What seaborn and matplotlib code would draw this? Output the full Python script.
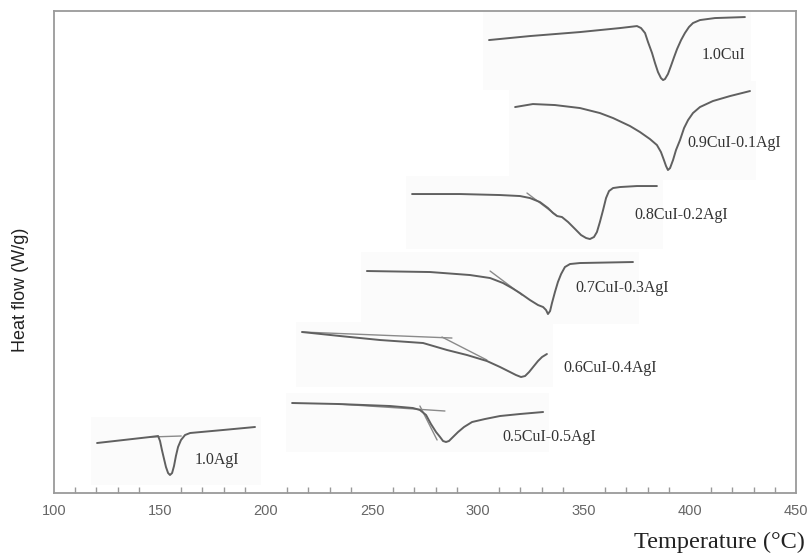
import numpy as np
import pandas as pd
import matplotlib.pyplot as plt
import seaborn as sns
from matplotlib.ticker import MultipleLocator
from matplotlib.patches import Rectangle

# DSC heating curves, heat flow in arbitrary (stacked/offset) units

t_10cui = [305.2, 324.5, 348.1, 367.0, 375.0, 376.9, 378.8, 380.2, 382.1, 383.5, 384.9, 386.3,
           387.3, 388.2, 389.6, 391.0, 392.5, 393.9, 395.8, 397.6, 399.5, 401.4, 404.7, 411.8, 425.9]
hf_10cui = [453, 457, 461, 465, 467, 465, 460, 451, 440, 430, 421, 415,
            413, 414, 419, 427, 436, 444, 453, 460, 466, 470, 473, 475, 476]

t_09cui = [317.5, 325.9, 336.3, 348.1, 357.5, 363.7, 371.7, 376.4, 381.1, 384.4, 386.3, 387.7,
           388.7, 389.6, 390.6, 392.0, 393.4, 395.3, 397.2, 399.1, 401.4, 404.7, 410.8, 418.9, 428.3]
hf_09cui = [386, 389, 388, 385, 380, 375, 367, 361, 354, 348, 341, 333,
            327, 323, 325, 333, 343, 353, 365, 373, 380, 386, 392, 397, 402]

t_08cui = [268.9, 291.5, 310.4, 319.8, 324.5, 329.2, 333.0, 335.4, 337.3, 339.6, 342.5, 345.8,
           348.6, 351.0, 352.8, 354.7, 356.1, 357.5, 359.0, 360.4, 361.8, 363.7, 367.0, 375.0, 384.4]
hf_08cui = [299, 299, 298, 297, 295, 291, 285, 280, 277, 276, 271, 264,
            258, 255, 254, 256, 261, 271, 283, 295, 302, 305, 306, 307, 307]

t_07cui = [247.6, 277.4, 296.2, 305.7, 311.8, 316.0, 319.8, 324.5, 328.3, 330.7, 332.1, 333.0,
           334.0, 334.9, 336.3, 337.7, 339.2, 341.0, 343.4, 348.1, 373.1]
hf_07cui = [222, 221, 218, 215, 210, 205, 200, 193, 188, 186, 183, 179,
            182, 190, 201, 211, 219, 226, 229, 230, 231]

t_06cui = [217.0, 234.9, 253.8, 274.1, 285.4, 294.8, 304.2, 310.4, 315.1, 317.9, 320.3, 322.2,
           324.1, 326.0, 328.3, 330.2, 332.5]
hf_06cui = [161, 157, 153, 150, 143, 138, 132, 126, 121, 118, 116, 117,
            121, 126, 132, 136, 139]

t_05cui = [212.3, 234.0, 258.5, 269.3, 272.6, 275.5, 277.8, 280.2, 282.1, 283.5, 284.9, 286.3,
           288.2, 290.6, 293.4, 297.2, 303.3, 310.4, 319.8, 330.7]
hf_05cui = [90, 89, 87, 85, 83, 78, 69, 61, 56, 52, 51, 52,
            56, 61, 66, 71, 74, 77, 79, 81]

t_10agi = [120.3, 145.3, 149.1, 150.0, 150.9, 151.9, 152.8, 153.8, 154.7, 155.7, 156.6, 157.5,
           158.5, 159.9, 161.8, 164.2, 179.7, 194.8]
hf_10agi = [50, 56, 57, 52, 43, 34, 26, 20, 18, 20, 27, 37,
            46, 53, 58, 60, 63, 66]

# onset construction lines (baseline extension / tangent)
tan_t = [[323.1, 336.8], [305.7, 320.8], [217.0, 287.7], [283.0, 304.2],
         [234.0, 284.4], [272.6, 280.7], [145.3, 160.0]]
tan_hf = [[300, 278], [222, 198], [161, 155], [156, 133],
          [89, 82], [87, 53], [56, 57]]

samples = ['1.0CuI', '0.9CuI-0.1AgI', '0.8CuI-0.2AgI', '0.7CuI-0.3AgI',
           '0.6CuI-0.4AgI', '0.5CuI-0.5AgI', '1.0AgI']
temps = [t_10cui, t_09cui, t_08cui, t_07cui, t_06cui, t_05cui, t_10agi]
flows = [hf_10cui, hf_09cui, hf_08cui, hf_07cui, hf_06cui, hf_05cui, hf_10agi]

# where the sample names sit (T, heat flow)
label_t = [405.7, 398.6, 373.6, 345.8, 340.1, 311.3, 166.5]
label_hf = [438, 350, 278, 205, 125, 56, 33]

sns.set_style('white')
plt.rcParams['font.family'] = ['Liberation Sans', 'DejaVu Sans']

fig = plt.figure(figsize=(8.1, 5.53), dpi=100)
ax = fig.add_axes([0.0667, 0.1085, 0.916, 0.8715])

for name, t, hf in zip(samples, temps, flows):
    df = pd.DataFrame({'Temperature': t, 'Heat flow': hf})
    # faint pasted-plot background behind each curve
    ax.add_patch(Rectangle((min(t) - 3, min(hf) - 10), max(t) - min(t) + 6,
                           max(hf) - min(hf) + 20, facecolor='#fbfbfb',
                           edgecolor='none', zorder=0))
    sns.lineplot(data=df, x='Temperature', y='Heat flow', ax=ax, color='#606060',
                 linewidth=1.4, estimator=None, sort=False, zorder=3)

for t, hf in zip(tan_t, tan_hf):
    ax.plot(t, hf, color='#8a8a8a', linewidth=1.0, zorder=2)

for name, x, y in zip(samples, label_t, label_hf):
    ax.text(x, y, name, fontsize=11.5, family=['Liberation Serif', 'DejaVu Serif'],
            color='#333333', va='center', ha='left')

ax.set_xlim(100, 450)
ax.set_ylim(0, 482)
ax.xaxis.set_major_locator(MultipleLocator(50))
ax.xaxis.set_minor_locator(MultipleLocator(10))
ax.set_yticks([])
ax.tick_params(axis='x', which='both', direction='in', length=4, width=1,
               color='#999999', labelsize=10.5, labelcolor='#666666', pad=8)
ax.tick_params(axis='x', which='minor', bottom=True)

for s in ax.spines.values():
    s.set_color('#9a9a9a')
    s.set_linewidth(1.3)

ax.set_xlabel('')
ax.set_ylabel('')
fig.text(0.025, 0.476, 'Heat flow (W/g)', rotation=90, fontsize=13,
         color='#222222', va='center', ha='center')
fig.text(0.994, 0.0, 'Temperature (\u00b0C)', fontsize=17.5,
         family=['Liberation Serif', 'DejaVu Serif'], color='#222222',
         ha='right', va='bottom')

plt.savefig('out.png', dpi=100)
